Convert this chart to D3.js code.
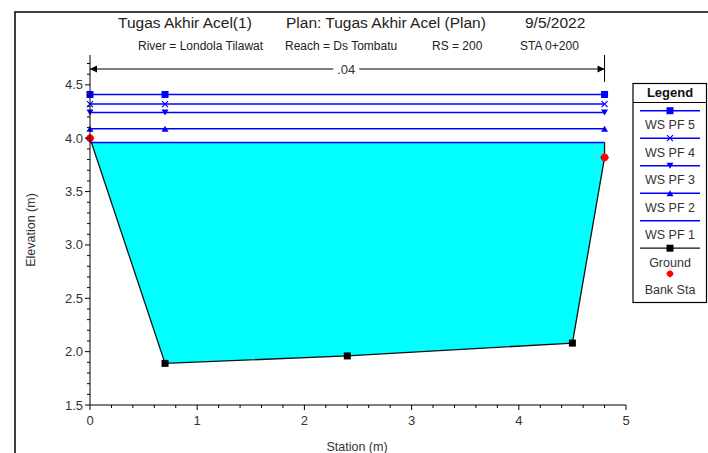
<!DOCTYPE html>
<html><head><meta charset="utf-8">
<script src="https://cdn.jsdelivr.net/npm/d3@7"></script>
<style>body{margin:0;background:#fff;font-family:"Liberation Sans",Arial,sans-serif}</style>
</head><body><svg id="c" width="708" height="453"></svg>
<script>
// ---- data ----
const groundStations = [0, 0.7, 2.4, 4.5, 4.8];
const groundElev = [4.0, 1.89, 1.96, 2.08, 3.82];
const bankStations = [0, 4.8];
const bankElev = [4.0, 3.82];
const wsNames = ["WS PF 5", "WS PF 4", "WS PF 3", "WS PF 2", "WS PF 1"];
const wsElev = [4.41, 4.32, 4.24, 4.09, 3.96];
const wsSymbols = ["square", "x", "down", "up", "none"];
const wsMarkerStations = [0, 0.7, 4.8];
const xTicks = [0, 1, 2, 3, 4, 5];
const yTicks = [1.5, 2.0, 2.5, 3.0, 3.5, 4.0, 4.5];
const manningLabel = ".04";
const manningRange = [0, 4.8];

const svg = d3.select("#c");
const x = d3.scaleLinear().domain([0, 5]).range([90, 626]);
const y = d3.scaleLinear().domain([1.5, 4.78]).range([405, 55]);
const txt = "#333";

// frame
svg.append("path").attr("d", "M15,453 V12 H708").attr("fill", "none").attr("stroke", "#000").attr("stroke-width", 1.5);

// titles
const t = svg.append("text").attr("y", 28).attr("font-size", 15.5).attr("fill", "#222");
t.append("tspan").attr("x", 118).text("Tugas Akhir Acel(1)");
t.append("tspan").attr("x", 286).text("Plan: Tugas Akhir Acel (Plan)");
t.append("tspan").attr("x", 525).text("9/5/2022");
const st = svg.append("text").attr("y", 50).attr("font-size", 12).attr("fill", "#222");
st.append("tspan").attr("x", 138).text("River = Londola Tilawat");
st.append("tspan").attr("x", 285).text("Reach = Ds Tombatu");
st.append("tspan").attr("x", 432).text("RS = 200");
st.append("tspan").attr("x", 520).text("STA 0+200");

// water fill (WS PF 1)
const wl = wsElev[4];
const xl = groundStations[0] + (groundElev[0] - wl) / (groundElev[0] - groundElev[1]) * (groundStations[1] - groundStations[0]);
const poly = [[xl, wl]];
for (let i = 1; i < groundStations.length; i++) poly.push([groundStations[i], groundElev[i]]);
poly.push([groundStations[groundStations.length - 1], wl]);
svg.append("path").attr("d", d3.line().x(d => x(d[0])).y(d => y(d[1]))(poly) + "Z").attr("fill", "#00FFFF");

// ground line
const gpts = groundStations.map((s, i) => [s, groundElev[i]]);
gpts.push([groundStations[groundStations.length - 1], wl]);
svg.append("path").attr("d", d3.line().x(d => x(d[0])).y(d => y(d[1]))(gpts)).attr("fill", "none").attr("stroke", "#111").attr("stroke-width", 1.3);

// markers
function marker(g, type, cx, cy, color) {
  if (type === "square") g.append("rect").attr("x", cx - 3.5).attr("y", cy - 3.5).attr("width", 7).attr("height", 7).attr("fill", color);
  else if (type === "down") g.append("path").attr("d", `M${cx-3.5},${cy-3} L${cx+3.5},${cy-3} L${cx},${cy+3} Z`).attr("fill", color);
  else if (type === "up") g.append("path").attr("d", `M${cx-3.5},${cy+3} L${cx+3.5},${cy+3} L${cx},${cy-3} Z`).attr("fill", color);
  else if (type === "x") g.append("path").attr("d", `M${cx-3},${cy-3} L${cx+3},${cy+3} M${cx+3},${cy-3} L${cx-3},${cy+3}`).attr("stroke", color).attr("stroke-width", 1.2);
}
function bankMarker(g, cx, cy, r) {
  g.append("path").attr("d", `M${cx},${cy-r} L${cx+r},${cy} L${cx},${cy+r} L${cx-r},${cy} Z`).attr("fill", "#FF0000");
  g.append("circle").attr("cx", cx).attr("cy", cy).attr("r", r * 0.8).attr("fill", "#FF0000");
}
wsElev.forEach((e, i) => {
  const g = svg.append("g");
  g.append("line").attr("x1", x(0)).attr("x2", x(4.8)).attr("y1", y(e)).attr("y2", y(e)).attr("stroke", "#0000FF").attr("stroke-width", 1.5);
  wsMarkerStations.forEach(s => marker(g, wsSymbols[i], x(s), y(e), "#0000FF"));
});

// ground markers (bank stations drawn on top in red)
groundStations.forEach((s, i) => {
  if (bankStations.includes(s)) return;
  svg.append("rect").attr("x", x(s) - 3.5).attr("y", y(groundElev[i]) - 3.5).attr("width", 7).attr("height", 7).attr("fill", "#000");
});
bankStations.forEach((s, i) => bankMarker(svg, x(s), y(bankElev[i]), 4.6));

// axes
const yAxis = svg.append("g").attr("transform", `translate(${x(0)},0)`);
yAxis.append("line").attr("y1", y(4.78)).attr("y2", y(1.5)).attr("stroke", "#000");
d3.range(15, 48).map(v => v / 10).forEach(v => {
  const major = Math.abs(v * 2 - Math.round(v * 2)) < 1e-6;
  yAxis.append("line").attr("x1", major ? -5 : -3).attr("x2", 0).attr("y1", y(v)).attr("y2", y(v)).attr("stroke", "#000");
});
yTicks.forEach(v => yAxis.append("text").attr("x", -7).attr("y", y(v)).attr("dy", "0.35em").attr("text-anchor", "end").attr("font-size", 13).attr("fill", txt).text(v.toFixed(1)));

const xAxis = svg.append("g").attr("transform", `translate(0,${y(1.5)})`);
xAxis.append("line").attr("x1", x(0)).attr("x2", x(5)).attr("stroke", "#000");
d3.range(0, 26).map(v => v / 5).forEach(v => {
  const major = Math.abs(v - Math.round(v)) < 1e-6;
  xAxis.append("line").attr("x1", x(v)).attr("x2", x(v)).attr("y1", 0).attr("y2", major ? 5 : 3).attr("stroke", "#000");
});
xTicks.forEach(v => xAxis.append("text").attr("x", x(v)).attr("y", 20).attr("text-anchor", "middle").attr("font-size", 13).attr("fill", txt).text(v));

svg.append("text").attr("x", 357).attr("y", 451).attr("text-anchor", "middle").attr("font-size", 12.5).attr("fill", txt).text("Station (m)");
svg.append("text").attr("transform", `translate(35,${(y(1.5) + y(4.78)) / 2}) rotate(-90)`).attr("text-anchor", "middle").attr("font-size", 12.5).attr("fill", txt).text("Elevation (m)");

// Manning n dimension line
const dimY = 69;
const xm = (x(manningRange[0]) + x(manningRange[1])) / 2;
svg.append("line").attr("x1", x(manningRange[0])).attr("x2", xm - 14).attr("y1", dimY).attr("y2", dimY).attr("stroke", "#000");
svg.append("line").attr("x1", xm + 12).attr("x2", x(manningRange[1])).attr("y1", dimY).attr("y2", dimY).attr("stroke", "#000");
svg.append("path").attr("d", `M${x(manningRange[0])},${dimY} l7,-3.5 v7 Z`).attr("fill", "#000");
svg.append("path").attr("d", `M${x(manningRange[1])},${dimY} l-7,-3.5 v7 Z`).attr("fill", "#000");
svg.append("line").attr("x1", x(manningRange[1])).attr("x2", x(manningRange[1])).attr("y1", 55).attr("y2", 82).attr("stroke", "#000");
svg.append("text").attr("x", xm - 1).attr("y", dimY).attr("dy", "0.38em").attr("text-anchor", "middle").attr("font-size", 13).attr("fill", txt).text(manningLabel);

// legend
const lg = svg.append("g");
lg.append("rect").attr("x", 633).attr("y", 83.5).attr("width", 73.5).attr("height", 219).attr("fill", "#fff").attr("stroke", "#000").attr("stroke-width", 1.2);
lg.append("line").attr("x1", 633).attr("x2", 706.5).attr("y1", 102.5).attr("y2", 102.5).attr("stroke", "#000").attr("stroke-width", 1.2);
lg.append("text").attr("x", 670).attr("y", 97).attr("text-anchor", "middle").attr("font-size", 13).attr("font-weight", "bold").attr("fill", "#111").text("Legend");
const legendNames = wsNames.concat(["Ground", "Bank Sta"]);
legendNames.forEach((n, i) => {
  const ly = 110.7 + i * 27.5;
  const g = lg.append("g");
  if (i < 5) {
    g.append("line").attr("x1", 640).attr("x2", 700).attr("y1", ly).attr("y2", ly).attr("stroke", "#0000FF").attr("stroke-width", 1.5);
    marker(g, wsSymbols[i], 670, ly, "#0000FF");
  } else if (i === 5) {
    g.append("line").attr("x1", 640).attr("x2", 700).attr("y1", ly).attr("y2", ly).attr("stroke", "#111").attr("stroke-width", 1.3);
    g.append("rect").attr("x", 666.5).attr("y", ly - 3.5).attr("width", 7).attr("height", 7).attr("fill", "#000");
  } else {
    bankMarker(g, 670, ly - 2, 3.8);
  }
  g.append("text").attr("x", 670).attr("y", ly + 14).attr("dy", "0.35em").attr("text-anchor", "middle").attr("font-size", 12.5).attr("fill", txt).text(n);
});
</script></body></html>
